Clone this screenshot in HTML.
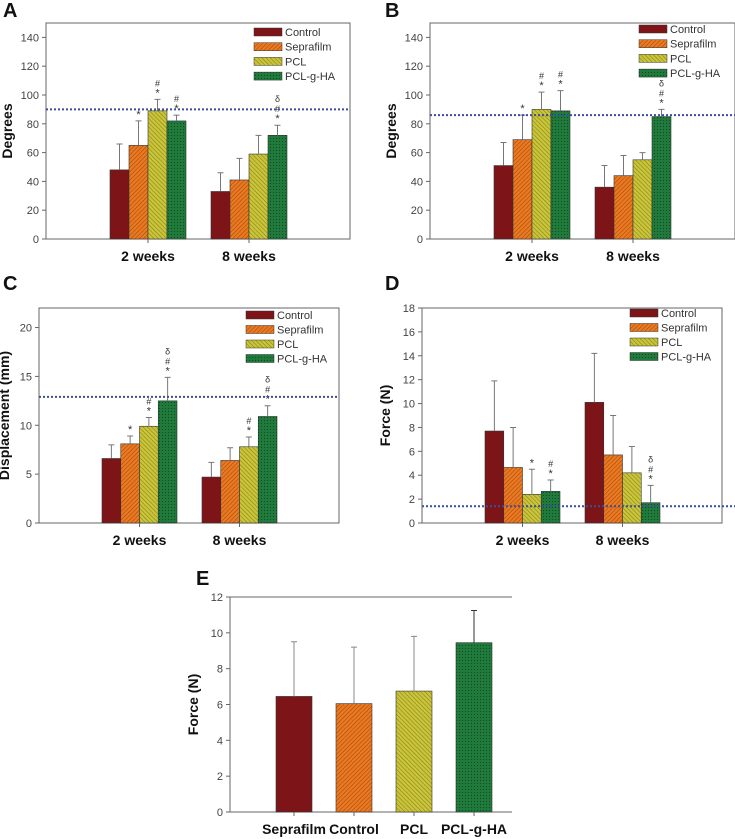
<!DOCTYPE html>
<html><head><meta charset="utf-8"><style>
body{margin:0;background:#fff;}
svg{display:block;font-family:"Liberation Sans",Arial,sans-serif;}
</style></head><body>
<svg id="fig" width="735" height="839" viewBox="0 0 735 839">
<defs>
<pattern id="p-ctrl" width="4" height="4" patternUnits="userSpaceOnUse"><rect width="4" height="4" fill="#7d1518"/></pattern>
<pattern id="p-sep" width="3" height="3" patternUnits="userSpaceOnUse" patternTransform="rotate(45)"><rect width="3" height="3" fill="#e87a22"/><line x1="0" y1="0" x2="0" y2="3" stroke="#a8400c" stroke-width="1"/></pattern>
<pattern id="p-pcl" width="3" height="3" patternUnits="userSpaceOnUse" patternTransform="rotate(-45)"><rect width="3" height="3" fill="#c9c43a"/><line x1="0" y1="0" x2="0" y2="3" stroke="#7f7d18" stroke-width="1"/></pattern>
<pattern id="p-ha" width="3" height="3" patternUnits="userSpaceOnUse"><rect width="3" height="3" fill="#1f7a3c"/><rect width="1" height="1" fill="#0f4a22"/></pattern>
</defs>
</svg>
<script>
const seriesNames = ["Control","Seprafilm","PCL","PCL-g-HA"];
const groupLabels = ["2 weeks","8 weeks"];
const A_week2 = [48,65,89,82];
const A_week2Err = [66,82,97,86];
const A_week8 = [33,41,59,72];
const A_week8Err = [46,56,72,79];
const A_marks2 = ["","*","#\n*","#\n*"];
const A_marks8 = ["","","","δ\n#\n*"];
const A_ticks = [0,20,40,60,80,100,120,140];
const A_ref = 90;
const B_week2 = [51,69,90,89];
const B_week2Err = [67,86,102,103];
const B_week8 = [36,44,55,85];
const B_week8Err = [51,58,60,90];
const B_marks2 = ["","*","#\n*","#\n*"];
const B_marks8 = ["","","","δ\n#\n*"];
const B_ticks = [0,20,40,60,80,100,120,140];
const B_ref = 86;
const C_week2 = [6.6,8.1,9.9,12.5];
const C_week2Err = [8.0,8.9,10.8,14.9];
const C_week8 = [4.7,6.4,7.8,10.9];
const C_week8Err = [6.2,7.7,8.8,12.0];
const C_marks2 = ["","*","#\n*","δ\n#\n*"];
const C_marks8 = ["","","#\n*","δ\n#\n*"];
const C_ticks = [0,5,10,15,20];
const C_ref = 12.9;
const D_week2 = [7.7,4.65,2.4,2.65];
const D_week2Err = [11.9,8.0,4.5,3.6];
const D_week8 = [10.1,5.7,4.2,1.7];
const D_week8Err = [14.2,9.0,6.4,3.15];
const D_marks2 = ["","","*","#\n*"];
const D_marks8 = ["","","","δ\n#\n*"];
const D_ticks = [0,2,4,6,8,10,12,14,16,18];
const D_ref = 1.4;
const E_categories = ["Seprafilm","Control","PCL","PCL-g-HA"];
const E_values = [6.45,6.05,6.75,9.45];
const E_errTop = [9.5,9.2,9.8,11.25];
const E_ticks = [0,2,4,6,8,10,12];

const fills = ["url(#p-ctrl)","url(#p-sep)","url(#p-pcl)","url(#p-ha)"];
const NS = "http://www.w3.org/2000/svg";
const svg = document.getElementById("fig");
function mk(tag, attrs, parent, text){
  const e = document.createElementNS(NS, tag);
  for (const k in attrs) e.setAttribute(k, attrs[k]);
  if (text !== undefined) e.textContent = text;
  (parent||svg).appendChild(e);
  return e;
}

function panel(c){
  const g = mk("g", {});
  
  
  const y = v => c.y1 - (v / c.max) * (c.y1 - c.y0);
  const lt = mk("text", {x:c.lx, y:c.ly, "font-size":20, "font-weight":"bold", fill:"#111"}, g, c.letter);
  
  
  const frame = mk("rect", {x:c.x0, y:c.y0, width:c.x1-c.x0, height:c.y1-c.y0, fill:"none", stroke:"#666", "stroke-width":1}, g);
  
  
  c.ticks.forEach(t => {
    mk("line", {x1:c.x0-4, x2:c.x0, y1:y(t), y2:y(t), stroke:"#666"}, g);
    const tl = mk("text", {x:c.x0-7, y:y(t)+4, "font-size":11, fill:"#444", "text-anchor":"end"}, g, String(t));
    
    
  });
  const yt = mk("text", {x:0, y:0, "font-size":14, "font-weight":"bold", fill:"#111", "text-anchor":"middle", transform:`translate(${c.x0-c.ytOff},${(c.y0+c.y1)/2}) rotate(-90)`}, g, c.ytitle);
  
  
  const bw = c.bw;
  c.groups.forEach((gr, gi) => {
    const gx = c.gx[gi];
    gr.vals.forEach((v, i) => {
      const bx = gx + i*bw;
      const b = mk("rect", {x:bx, y:y(v), width:bw, height:y(0)-y(v), fill:fills[i], stroke:"#333", "stroke-width":0.6}, g);
      
      
      const cx = bx + bw/2, et = y(gr.err[i]);
      const eb = mk("path", {d:`M${cx},${y(v)}V${et}M${cx-3},${et}H${cx+3}`, stroke:"#777", "stroke-width":1, fill:"none"}, g);
      
      
      const lines = gr.marks[i] ? gr.marks[i].split("\n") : [];
      lines.forEach((s, k) => {
        const yy = et - 3 - (lines.length-1-k)*10;
        const m = mk("text", {x:cx, y:yy, "font-size":s==="*"?11:9, fill:"#333", "text-anchor":"middle"}, g, s);
        
        
      });
    });
    const mid = gx + 2*bw;
    mk("line", {x1:mid, x2:mid, y1:c.y1, y2:c.y1+4, stroke:"#666"}, g);
    const xl = mk("text", {x:mid, y:c.y1+22, "font-size":14, "font-weight":"bold", fill:"#111", "text-anchor":"middle"}, g, groupLabels[gi]);
    
    
  });
  const rl = mk("line", {x1:c.x0, x2:c.refEnd, y1:y(c.ref), y2:y(c.ref), stroke:"#3a4f9a", "stroke-width":2, "stroke-dasharray":"2,2"}, g);
  
  
  seriesNames.forEach((n, i) => {
    const yy = c.legY + i*c.legStep;
    const sw = mk("rect", {x:c.legX, y:yy-4, width:28, height:8, fill:fills[i], stroke:"#333", "stroke-width":0.5}, g);
    
    
    const lt2 = mk("text", {x:c.legX+31, y:yy+4, "font-size":11, fill:"#333"}, g, n);
    
    
  });
}

panel({id:"a", letter:"A", lx:3, ly:17, x0:46, x1:350, y0:23, y1:239, max:150, ticks:A_ticks, ytitle:"Degrees", ytOff:34, bw:19, gx:[110,211],
  groups:[{vals:A_week2, err:A_week2Err, marks:A_marks2},{vals:A_week8, err:A_week8Err, marks:A_marks8}],
  ref:A_ref, refEnd:350, legX:254, legY:32, legStep:14.7});
panel({id:"b", letter:"B", lx:385, ly:17, x0:430, x1:735, y0:23, y1:239, max:150, ticks:B_ticks, ytitle:"Degrees", ytOff:34, bw:19, gx:[494,595],
  groups:[{vals:B_week2, err:B_week2Err, marks:B_marks2},{vals:B_week8, err:B_week8Err, marks:B_marks8}],
  ref:B_ref, refEnd:735, legX:639, legY:29, legStep:14.7});
panel({id:"c", letter:"C", lx:3, ly:290, x0:39, x1:339, y0:308, y1:523, max:22, ticks:C_ticks, ytitle:"Displacement (mm)", ytOff:30, bw:18.75, gx:[102,202],
  groups:[{vals:C_week2, err:C_week2Err, marks:C_marks2},{vals:C_week8, err:C_week8Err, marks:C_marks8}],
  ref:C_ref, refEnd:339, legX:246, legY:315, legStep:14.5});
panel({id:"d", letter:"D", lx:385, ly:290, x0:422, x1:722, y0:308, y1:523, max:18, ticks:D_ticks, ytitle:"Force (N)", ytOff:32, bw:18.75, gx:[485,585],
  groups:[{vals:D_week2, err:D_week2Err, marks:D_marks2},{vals:D_week8, err:D_week8Err, marks:D_marks8}],
  ref:D_ref, refEnd:735, legX:630, legY:313, legStep:14.5});

// Panel E
(function(){
  const g = mk("g", {});
  
  
  const x0=230, x1=512, y0=597, y1=812, max=12;
  const y = v => y1 - (v/max)*(y1-y0);
  const xc = i => 294 + i*60;
  const lt = mk("text", {x:196, y:585, "font-size":20, "font-weight":"bold", fill:"#111"}, g, "E");
  
  
  mk("path", {d:`M${x0},${y0}H${x1}M${x0},${y0}V${y1}H${x1}`, stroke:"#666", fill:"none"}, g);
  E_ticks.forEach(t => {
    mk("line", {x1:x0-4, x2:x0, y1:y(t), y2:y(t), stroke:"#666"}, g);
    const tl = mk("text", {x:x0-7, y:y(t)+4, "font-size":11, fill:"#444", "text-anchor":"end"}, g, String(t));
    
    
  });
  const yt = mk("text", {x:0, y:0, "font-size":14, "font-weight":"bold", fill:"#111", "text-anchor":"middle", transform:`translate(${x0-32},${(y0+y1)/2}) rotate(-90)`}, g, "Force (N)");
  
  
  E_categories.forEach((n, i) => {
    const cx = xc(i), bw = 36;
    const b = mk("rect", {x:cx-bw/2, y:y(E_values[i]), width:bw, height:y(0)-y(E_values[i]), fill:fills[i], stroke:"#333", "stroke-width":0.6}, g);
    
    
    const et = y(E_errTop[i]);
    const eb = mk("path", {d:`M${cx},${y(E_values[i])}V${et}M${cx-3},${et}H${cx+3}`, stroke:i===3?"#333":"#888", "stroke-width":1, fill:"none"}, g);
    
    
    mk("line", {x1:cx, x2:cx, y1:y1, y2:y1+4, stroke:"#666"}, g);
    const xl = mk("text", {x:cx, y:y1+22, "font-size":14, "font-weight":"bold", fill:"#111", "text-anchor":"middle"}, g, n);
    
    
  });
})();
</script>
</body></html>
